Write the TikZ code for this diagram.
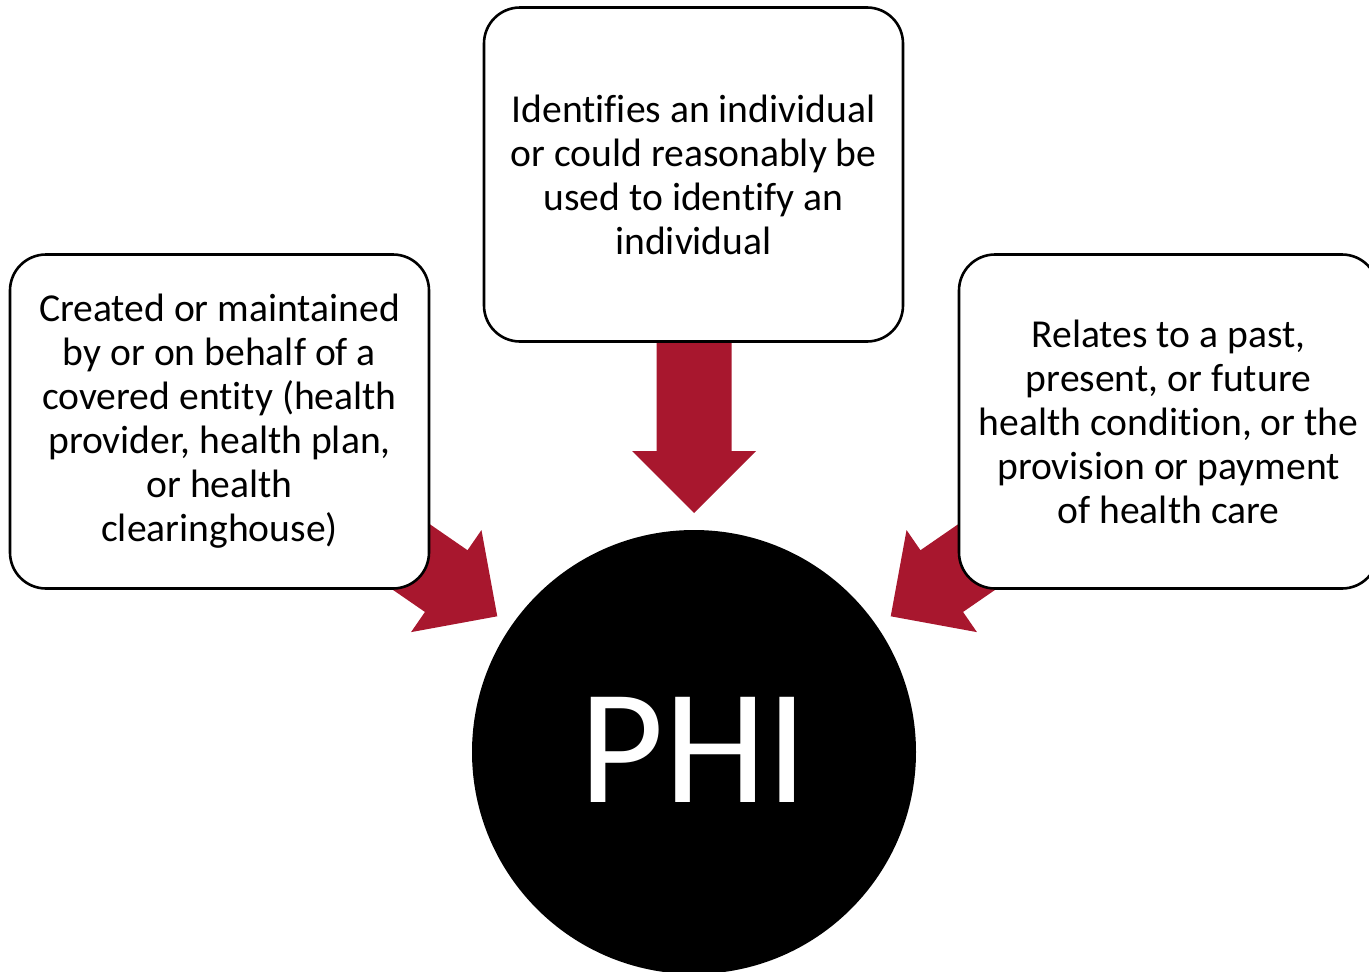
\documentclass[tikz,border=0pt]{standalone}
\usepackage{fontspec}
\setmainfont{Carlito}[Ligatures=NoCommon]
\definecolor{phired}{RGB}{168,23,46}
\begin{document}
\begin{tikzpicture}[x=1pt,y=-1pt,
  infobox/.style={draw=black, line width=2.6pt, fill=white, rounded corners=36pt,
    minimum width=419pt, minimum height=334pt, inner sep=0pt, align=center,
    font=\fontsize{39.6}{44}\selectfont},
  blockarrow/.style={fill=phired, draw=none},
  core/.style={circle, fill=black, minimum size=444pt, inner sep=0pt,
    text=white, font=\fontsize{164}{164}\selectfont}]
\useasboundingbox (0,0) rectangle (1369,972);
\clip (0,0) rectangle (1369,972);

% centre of the PHI disc
\coordinate (c) at (694,752);

% block arrows pointing in towards the disc (drawn first, boxes cover their tails)
\foreach \ang in {90,145.4,34.6}
  \fill[blockarrow, shift={(c)}, rotate=\ang]
    (239,0) -- (301,62) -- (301,37.5) -- (430,37.5) -- (430,-37.5)
    -- (301,-37.5) -- (301,-62) -- cycle;

% the three criteria
\node[infobox] (left) at (219.5,421.5)
  {Created or maintained\\by or on behalf of a\\covered entity (health\\provider, health plan,\\or health\\clearinghouse)};
\node[infobox] (top) at (693.5,174.5)
  {Identifies an individual\\or could reasonably be\\used to identify an\\individual};
\node[infobox] (right) at (1168.5,421.5)
  {Relates to a past,\\present, or future\\health condition, or the\\provision or payment\\of health care};

% the disc
\node[core] (phi) at (c) {\raisebox{4pt}{PHI}};
\end{tikzpicture}
\end{document}
